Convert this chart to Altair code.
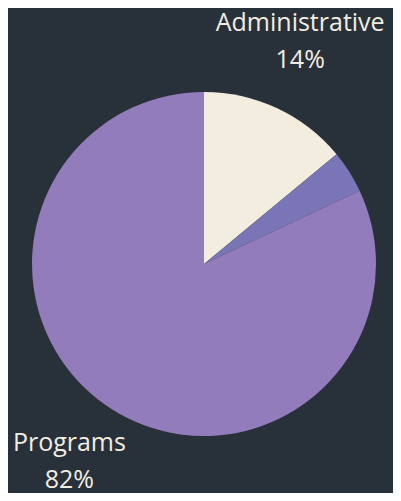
import altair as alt
import pandas as pd

categories = ["Administrative", "Fundraising", "Programs"]
values = [14, 4, 82]
labels = ["Administrative\n14%", "", "Programs\n82%"]
colors = ["#f3ede0", "#7a75b6", "#927cbc"]
order = [0, 1, 2]

df = pd.DataFrame({"category": categories, "value": values, "label": labels, "order": order})

BG = "#28303a"

base = alt.Chart(df).encode(
    theta=alt.Theta("value:Q", stack=True),
    order=alt.Order("order:Q"),
    x=alt.value(196),
    y=alt.value(256),
)

pie = base.mark_arc(outerRadius=172).encode(
    color=alt.Color("category:N", scale=alt.Scale(domain=categories, range=colors), legend=None)
)

text = base.mark_text(
    radius=240, dx=-6, dy=-24, fontSize=25, font="Open Sans", color="#f3ede0",
    lineBreak="\n", lineHeight=37
).encode(text="label:N")

chart = (pie + text).properties(
    width=385, height=485, background=BG, padding=0, autosize="none"
).configure_view(stroke=None)

chart.save("out.html", embed_options={"renderer": "svg", "actions": False})
